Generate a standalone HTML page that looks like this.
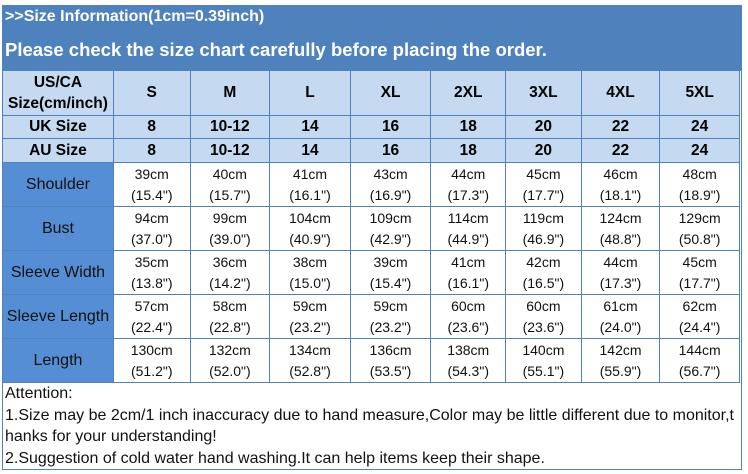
<!DOCTYPE html>
<html><head><style>
body{margin:0;width:748px;height:474px;background:#fff;font-family:"Liberation Sans",Arial,sans-serif;position:relative;overflow:hidden}
.wrap{position:absolute;left:2px;top:5px;width:740px;height:465px;border:1px solid #4f81bd;box-sizing:border-box}
.hdr{position:absolute;left:0;top:0;width:738px;height:65px;background:#4f81bd;color:#fff;font-weight:bold}
.t1{position:absolute;left:2px;top:2px;font-size:16px}
.t2{position:absolute;left:2px;top:33px;font-size:18.5px}
table{position:absolute;left:-1px;top:64px;border-collapse:collapse;table-layout:fixed}
td{border:1px solid #4f81bd;text-align:center;padding:0;font-size:14px;color:#111;overflow:visible;white-space:nowrap}
tr.h td{background:#c5d9f1;font-weight:bold;font-size:15.5px;color:#000}
td.l{background:#558ed5;font-size:16px;color:#111}
td.d{line-height:21px}
.att{position:absolute;left:2px;top:377px;font-size:16px;line-height:21.5px;color:#111;width:736px}
</style></head><body>
<div class="wrap">
<div class="hdr"><div class="t1">&gt;&gt;Size Information(1cm=0.39inch)</div><div class="t2">Please check the size chart carefully before placing the order.</div></div>
<table>
<colgroup><col style="width:111px"><col style="width:77px"><col style="width:80px"><col style="width:81px"><col style="width:81px"><col style="width:75px"><col style="width:76px"><col style="width:79px"><col style="width:80px"></colgroup>
<tr class="h" style="height:45px"><td style="line-height:21px">US/CA<br>Size(cm/inch)</td><td>S</td><td>M</td><td>L</td><td>XL</td><td>2XL</td><td>3XL</td><td>4XL</td><td>5XL</td></tr>
<tr class="h" style="height:23px"><td>UK Size</td><td>8</td><td>10-12</td><td>14</td><td>16</td><td>18</td><td>20</td><td>22</td><td>24</td></tr>
<tr class="h" style="height:24px"><td>AU Size</td><td>8</td><td>10-12</td><td>14</td><td>16</td><td>18</td><td>20</td><td>22</td><td>24</td></tr>
<tr style="height:44px"><td class="l">Shoulder</td><td class="d">39cm<br>(15.4")</td><td class="d">40cm<br>(15.7")</td><td class="d">41cm<br>(16.1")</td><td class="d">43cm<br>(16.9")</td><td class="d">44cm<br>(17.3")</td><td class="d">45cm<br>(17.7")</td><td class="d">46cm<br>(18.1")</td><td class="d">48cm<br>(18.9")</td></tr>
<tr style="height:44px"><td class="l">Bust</td><td class="d">94cm<br>(37.0")</td><td class="d">99cm<br>(39.0")</td><td class="d">104cm<br>(40.9")</td><td class="d">109cm<br>(42.9")</td><td class="d">114cm<br>(44.9")</td><td class="d">119cm<br>(46.9")</td><td class="d">124cm<br>(48.8")</td><td class="d">129cm<br>(50.8")</td></tr>
<tr style="height:44px"><td class="l">Sleeve Width</td><td class="d">35cm<br>(13.8")</td><td class="d">36cm<br>(14.2")</td><td class="d">38cm<br>(15.0")</td><td class="d">39cm<br>(15.4")</td><td class="d">41cm<br>(16.1")</td><td class="d">42cm<br>(16.5")</td><td class="d">44cm<br>(17.3")</td><td class="d">45cm<br>(17.7")</td></tr>
<tr style="height:44px"><td class="l">Sleeve Length</td><td class="d">57cm<br>(22.4")</td><td class="d">58cm<br>(22.8")</td><td class="d">59cm<br>(23.2")</td><td class="d">59cm<br>(23.2")</td><td class="d">60cm<br>(23.6")</td><td class="d">60cm<br>(23.6")</td><td class="d">61cm<br>(24.0")</td><td class="d">62cm<br>(24.4")</td></tr>
<tr style="height:44px"><td class="l">Length</td><td class="d">130cm<br>(51.2")</td><td class="d">132cm<br>(52.0")</td><td class="d">134cm<br>(52.8")</td><td class="d">136cm<br>(53.5")</td><td class="d">138cm<br>(54.3")</td><td class="d">140cm<br>(55.1")</td><td class="d">142cm<br>(55.9")</td><td class="d">144cm<br>(56.7")</td></tr>
</table>
<div class="att">Attention:<br>1.Size may be 2cm/1 inch inaccuracy due to hand measure,Color may be little different due to monitor,t<br>hanks for your understanding!<br>2.Suggestion of cold water hand washing.It can help items keep their shape.</div>
</div>
</body></html>
